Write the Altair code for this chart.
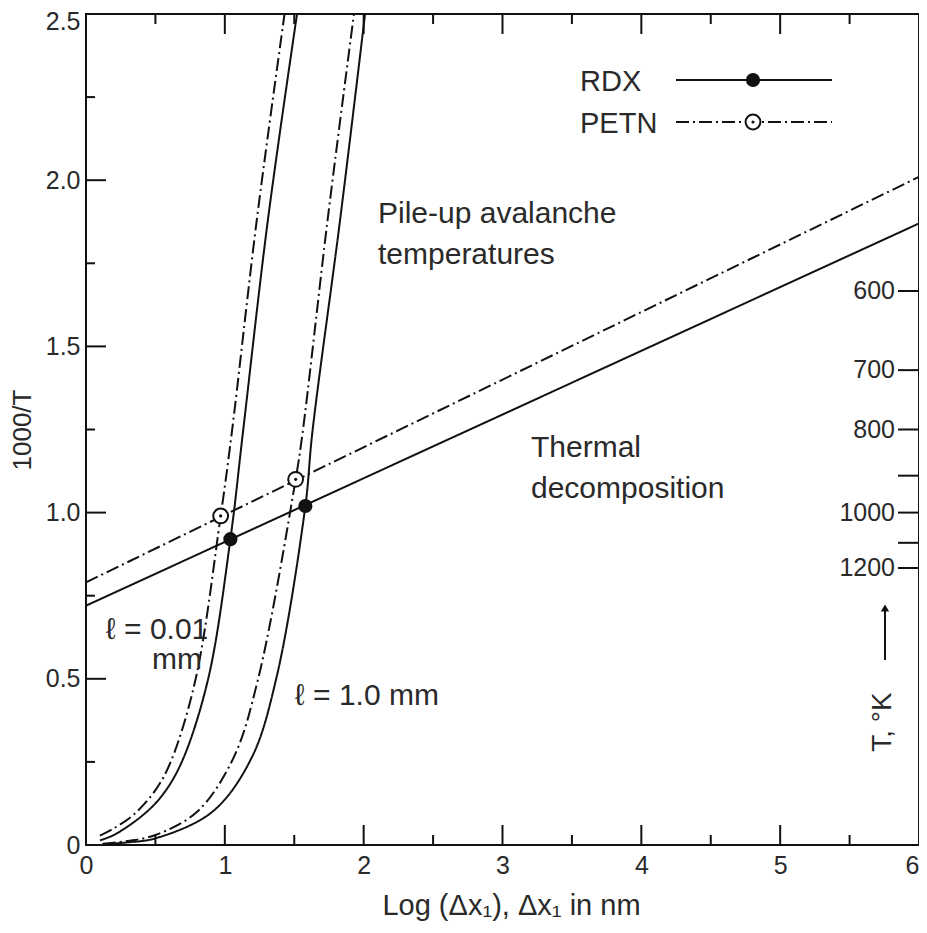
import altair as alt
import pandas as pd

# ---------------- data ----------------
x_tick_values = [0, 1, 2, 3, 4, 5, 6]
y_tick_values = [0, 0.5, 1.0, 1.5, 2.0, 2.5]
x_major_inner = [1, 2, 3, 4, 5]
x_minor = [0.5, 1.5, 2.5, 3.5, 4.5, 5.5]
y_major_inner = [0.5, 1.0, 1.5, 2.0]
y_minor = [0.25, 0.75, 1.25, 1.75, 2.25]
temp_ticks = [600, 700, 800, 900, 1000, 1100, 1200]
temp_labels = [600, 700, 800, 1000, 1200]

# thermal decomposition lines
rdx_line_x = [0, 6]
rdx_line_y = [0.72, 1.87]
petn_line_x = [0, 6]
petn_line_y = [0.79, 2.01]

# pile-up avalanche curves, l = 0.01 mm
petn_001_x = [0.10, 0.20, 0.34, 0.50, 0.61, 0.79, 0.97, 1.05, 1.23, 1.43]
petn_001_y = [0.028, 0.05, 0.09, 0.165, 0.25, 0.50, 0.99, 1.24, 1.88, 2.50]
rdx_001_x = [0.10, 0.20, 0.41, 0.55, 0.69, 0.88, 1.04, 1.13, 1.31, 1.52]
rdx_001_y = [0.014, 0.03, 0.09, 0.15, 0.25, 0.50, 0.92, 1.24, 1.88, 2.50]
# l = 1.0 mm
petn_1_x = [0.12, 0.30, 0.50, 0.80, 1.06, 1.24, 1.51, 1.56, 1.74, 1.93]
petn_1_y = [0.004, 0.012, 0.03, 0.10, 0.26, 0.50, 1.10, 1.24, 1.88, 2.50]
rdx_1_x = [0.12, 0.30, 0.50, 0.91, 1.19, 1.37, 1.58, 1.63, 1.83, 2.01]
rdx_1_y = [0.002, 0.008, 0.02, 0.10, 0.26, 0.50, 1.02, 1.24, 1.88, 2.50]

# intersection markers
rdx_mark_x = [1.04, 1.58]
rdx_mark_y = [0.92, 1.02]
petn_mark_x = [0.97, 1.51]
petn_mark_y = [0.99, 1.10]

# ---------------- build tables ----------------
rows = []
def add(name, mat, xs, ys):
    for a, b in zip(xs, ys):
        rows.append({"curve": name, "material": mat, "x": a, "y": b})
add("rdx_line", "RDX", rdx_line_x, rdx_line_y)
add("petn_line", "PETN", petn_line_x, petn_line_y)
add("petn_001", "PETN", petn_001_x, petn_001_y)
add("rdx_001", "RDX", rdx_001_x, rdx_001_y)
add("petn_1", "PETN", petn_1_x, petn_1_y)
add("rdx_1", "RDX", rdx_1_x, rdx_1_y)
lines_df = pd.DataFrame(rows)

W, H = 833, 831
FONT = "Liberation Sans"
TXT = "#2a2a2a"
INK = "#111111"
DASHDOT = [13, 4, 2, 4]

xs = alt.Scale(domain=[0, 6], nice=False, zero=False)
ys = alt.Scale(domain=[0, 2.5], nice=False, zero=False)

x_axis = alt.Axis(values=x_tick_values, title="Log (Δx₁),  Δx₁ in nm", ticks=False,
                  domain=False, grid=False, labelFont=FONT, labelFontSize=25,
                  labelColor=TXT, labelPadding=8, labelFlush=False, format="d",
                  labelAlign=alt.condition("datum.value == 6", alt.value("right"), alt.value("center")),
                  titleFont=FONT, titleFontSize=29, titleColor=TXT, titleFontWeight="normal",
                  titlePadding=13, titleX=425, titleAlign="center")
y_axis = alt.Axis(values=y_tick_values, title="1000/T", ticks=False, domain=False,
                  grid=False, labelFont=FONT, labelFontSize=25, labelColor=TXT,
                  labelPadding=6, labelFlush=False,
                  labelBaseline=alt.condition("datum.value == 2.5", alt.value("top"), alt.value("middle")),
                  labelOffset=alt.condition("datum.value == 2.5", alt.value(-5), alt.value(0)),
                  labelExpr="datum.value == 0 ? '0' : format(datum.value, '.1f')",
                  titleFont=FONT, titleFontSize=26, titleColor=TXT, titleFontWeight="normal",
                  titlePadding=10)

lines = alt.Chart(lines_df).mark_line(strokeWidth=2, color=INK, interpolate="catmull-rom").encode(
    x=alt.X("x:Q", scale=xs, axis=x_axis),
    y=alt.Y("y:Q", scale=ys, axis=y_axis),
    detail="curve:N",
    strokeDash=alt.StrokeDash("material:N",
                              scale=alt.Scale(domain=["RDX", "PETN"], range=[[1, 0], DASHDOT]),
                              legend=None),
)

def xtick(vals, y0, y1):
    return alt.Chart(pd.DataFrame({"x": vals})).mark_rule(color=INK, strokeWidth=2).encode(
        x=alt.X("x:Q", scale=xs), y=alt.value(y0), y2=alt.value(y1))

def ytick(vals, x0, x1):
    return alt.Chart(pd.DataFrame({"y": vals})).mark_rule(color=INK, strokeWidth=2).encode(
        y=alt.Y("y:Q", scale=ys), x=alt.value(x0), x2=alt.value(x1))

temp_df = pd.DataFrame({"T": temp_ticks})
temp_df["y"] = 1000.0 / temp_df["T"]
templ_df = pd.DataFrame({"T": temp_labels})
templ_df["y"] = 1000.0 / templ_df["T"]
templ_df["label"] = templ_df["T"].astype(str)

ticks = [
    xtick(x_major_inner, H, H - 20), xtick(x_minor, H, H - 10),
    xtick(x_major_inner, 0, 20), xtick(x_minor, 0, 10),
    ytick(y_major_inner, 0, 20), ytick(y_minor, 0, 9),
    alt.Chart(temp_df).mark_rule(color=INK, strokeWidth=2).encode(
        y=alt.Y("y:Q", scale=ys), x=alt.value(W - 21), x2=alt.value(W)),
]

temp_text = alt.Chart(templ_df).mark_text(font=FONT, fontSize=25, color=TXT, align="right",
                                          baseline="middle").encode(
    y=alt.Y("y:Q", scale=ys), x=alt.value(W - 24), text="label:N")

rdx_pts = alt.Chart(pd.DataFrame({"x": rdx_mark_x, "y": rdx_mark_y})).mark_point(
    shape="circle", filled=True, color=INK, size=200, opacity=1).encode(
    x=alt.X("x:Q", scale=xs), y=alt.Y("y:Q", scale=ys))
petn_pts = alt.Chart(pd.DataFrame({"x": petn_mark_x, "y": petn_mark_y})).mark_point(
    shape="circle", filled=True, fill="white", stroke=INK, strokeWidth=2, size=220, opacity=1).encode(
    x=alt.X("x:Q", scale=xs), y=alt.Y("y:Q", scale=ys))
petn_ctr = alt.Chart(pd.DataFrame({"x": petn_mark_x, "y": petn_mark_y})).mark_point(
    shape="circle", filled=True, color=INK, size=10, opacity=1).encode(
    x=alt.X("x:Q", scale=xs), y=alt.Y("y:Q", scale=ys))

one = pd.DataFrame({"a": [0]})

def label(txt, px, py, size=30, **kw):
    props = dict(font=FONT, fontSize=size, color=TXT, align="left", baseline="alphabetic")
    props.update(kw)
    return alt.Chart(pd.DataFrame({"t": [txt]})).mark_text(**props).encode(
        x=alt.value(px), y=alt.value(py), text="t:N")

annotations = [
    label("Pile-up avalanche", 292, 209),
    label("temperatures", 292, 250),
    label("Thermal", 445, 443),
    label("decomposition", 445, 484),
    label("ℓ = 0.01", 20, 625),
    label("mm", 66, 655),
    label("ℓ = 1.0 mm", 209, 691),
    label("RDX", 494, 77, size=29),
    label("PETN", 494, 119, size=29),
    label("T, °K", 797, 708, size=28, angle=270, align="center", baseline="middle"),
]

legend = [
    alt.Chart(one).mark_rule(color=INK, strokeWidth=2).encode(
        x=alt.value(590), x2=alt.value(746), y=alt.value(66)),
    alt.Chart(one).mark_rule(color=INK, strokeWidth=2, strokeDash=DASHDOT).encode(
        x=alt.value(590), x2=alt.value(746), y=alt.value(108)),
    alt.Chart(one).mark_point(shape="circle", filled=True, color=INK, size=200, opacity=1).encode(
        x=alt.value(667), y=alt.value(66)),
    alt.Chart(one).mark_point(shape="circle", filled=True, fill="white", stroke=INK,
                              strokeWidth=2, size=220, opacity=1).encode(
        x=alt.value(667), y=alt.value(108)),
    alt.Chart(one).mark_point(shape="circle", filled=True, color=INK, size=10, opacity=1).encode(
        x=alt.value(667), y=alt.value(108)),
]

arrow = [
    alt.Chart(one).mark_rule(color=INK, strokeWidth=2).encode(
        x=alt.value(799), y=alt.value(646), y2=alt.value(597)),
    alt.Chart(one).mark_point(shape="triangle-up", filled=True, color=INK, size=70, opacity=1).encode(
        x=alt.value(799), y=alt.value(594)),
]

chart = alt.layer(lines, *ticks, temp_text, petn_pts, petn_ctr, rdx_pts,
                  *annotations, *legend, *arrow).properties(
    width=W, height=H,
    autosize=alt.AutoSizeParams(type="none"),
    padding={"left": 78, "top": 6, "right": 0, "bottom": 80},
    background="white",
).configure_view(stroke=INK, strokeWidth=2)

chart.save("out.html", embed_options={"renderer": "svg", "actions": False})
